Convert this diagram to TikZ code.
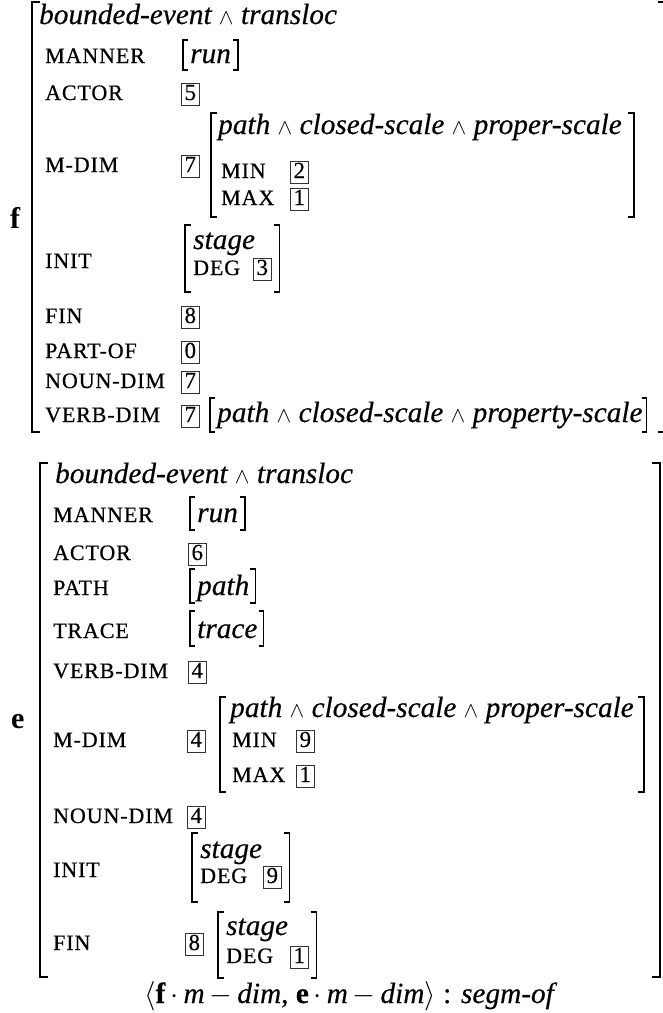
\documentclass[tikz,border=0pt]{standalone}
\usepackage{fix-cm}
\usepackage{fontspec}
\setmainfont{Liberation Serif}
\newfontfamily\scfam[LetterSpace=4,FakeBold=0.6]{Liberation Serif}
\newfontfamily\itfam[FakeBold=0.4]{Liberation Serif}
\newfontfamily\numfam[FakeBold=0.3]{Liberation Serif}
\usetikzlibrary{calc}
\newcommand\wg{{\fontsize{22}{22}\selectfont$\wedge$}}
% left bracket: x, top, bottom, tick, style
\newcommand\LB[5]{\draw[#5] (#1+#4,#2) -- (#1,#2) -- (#1,#3) -- (#1+#4,#3);}
% right bracket after node: node, gap, top, bottom, tick, style
\newcommand\RB[6]{\draw[#6] ([xshift=#2-#5]#1.east |- 0,#3) -- ([xshift=#2]#1.east |- 0,#3) -- ([xshift=#2]#1.east |- 0,#4) -- ([xshift=#2-#5]#1.east |- 0,#4);}
\tikzset{
  it/.style={anchor=base west, inner sep=0pt, font=\fontsize{29.3}{30}\selectfont\itfam\itshape},
  up/.style={anchor=base west, inner sep=0pt, font=\fontsize{29.3}{30}\selectfont\itfam},
  lab/.style={anchor=base west, inner sep=0pt, font=\fontsize{22}{22}\selectfont\scfam},
  nb/.style={draw=black!80, line width=0.6pt, anchor=base west, inner sep=0pt, minimum width=18pt, text height=17pt, text depth=5pt, font=\fontsize{23}{23}\selectfont\numfam},
  big/.style={anchor=base west, inner sep=0pt, font=\fontsize{30}{30}\selectfont\bfseries},
  ob/.style={line width=2.4pt},
  ib/.style={line width=1.6pt},
  sb/.style={line width=1.3pt},
}
\begin{document}
\begin{tikzpicture}[x=1pt,y=-1pt]
\useasboundingbox (0,0) rectangle (663,1013);
% ---------------- f ----------------
\node[big] (fB) at (10,228) {f};
\LB{32}{2}{432}{8}{ob}
\draw[ob] (658,2) -- (666,2) -- (666,432) -- (658,432);
\node[it] (f0) at (39,24) {bounded-event \wg{} transloc};
\node[lab] (fman) at (45,63) {MANNER};
\node[it] (frun) at (190,63) {run};
\LB{183}{40}{70}{5}{sb}
\RB{frun}{7}{40}{70}{5}{sb}
\node[lab] (fact) at (45,100) {ACTOR};
\node[nb] (fb5) at (181,100) {5};
\node[lab] (fmd) at (45,172) {M-DIM};
\node[nb] (fb7a) at (181,172) {7};
\node[it] (fpath) at (218,134) {path \wg{} closed-scale \wg{} proper-scale};
\node[lab] (fmin) at (221,178) {MIN};
\node[nb] (fb2) at (290,178) {2};
\node[lab] (fmax) at (221,205) {MAX};
\node[nb] (fb1) at (290,205) {1};
\LB{211}{113}{217}{6}{ib}
\RB{fpath}{12}{113}{217}{6}{ib}
\node[lab] (finit) at (45,268) {INIT};
\node[it] (fstage) at (193,249) {stage};
\node[lab] (fdeg) at (193,275) {DEG};
\node[nb] (fb3) at (253,275) {3};
\LB{185}{225}{292}{6}{ib}
\RB{fb3}{8}{225}{292}{6}{ib}
\node[lab] (ffin) at (45,323) {FIN};
\node[nb] (fb8) at (181,323) {8};
\node[lab] (fpart) at (45,358) {PART-OF};
\node[nb] (fb0) at (181,358) {0};
\node[lab] (fnoun) at (45,388) {NOUN-DIM};
\node[nb] (fb7b) at (181,388) {7};
\node[lab] (fverb) at (45,422) {VERB-DIM};
\node[nb] (fb7c) at (181,422) {7};
\node[it] (fvp) at (217,422) {path \wg{} closed-scale \wg{} property-scale};
\LB{210}{398}{432}{5}{sb}
\RB{fvp}{4}{398}{432}{5}{sb}
% ---------------- e ----------------
\node[big] (eB) at (11,728) {e};
\LB{40}{463}{977}{8}{ob}
\draw[ob] (652,463) -- (660,463) -- (660,977) -- (652,977);
\node[it] (e0) at (55,483) {bounded-event \wg{} transloc};
\node[lab] (eman) at (53,522) {MANNER};
\node[it] (erun) at (197,522) {run};
\LB{190}{497}{530}{5}{sb}
\RB{erun}{7}{497}{530}{5}{sb}
\node[lab] (eact) at (53,560) {ACTOR};
\node[nb] (eb6) at (188,560) {6};
\node[lab] (epth) at (53,595) {PATH};
\node[it] (epv) at (197,595) {path};
\LB{190}{569}{603}{5}{sb}
\RB{epv}{6}{569}{603}{5}{sb}
\node[lab] (etr) at (53,638) {TRACE};
\node[it] (etv) at (197,638) {trace};
\LB{190}{611}{646}{5}{sb}
\RB{etv}{6}{611}{646}{5}{sb}
\node[lab] (everb) at (53,678) {VERB-DIM};
\node[nb] (eb4a) at (188,678) {4};
\node[lab] (emd) at (53,747) {M-DIM};
\node[nb] (eb4b) at (187,747) {4};
\node[it] (epath) at (230,717) {path \wg{} closed-scale \wg{} proper-scale};
\node[lab] (emin) at (232,747) {MIN};
\node[nb] (eb9a) at (296,747) {9};
\node[lab] (emax) at (232,782) {MAX};
\node[nb] (eb1a) at (296,782) {1};
\LB{220}{697}{792}{6}{ib}
\RB{epath}{10}{697}{792}{6}{ib}
\node[lab] (enoun) at (53,823) {NOUN-DIM};
\node[nb] (eb4c) at (187,823) {4};
\node[lab] (einit) at (53,877) {INIT};
\node[it] (est1) at (200,858) {stage};
\node[lab] (edeg1) at (200,883) {DEG};
\node[nb] (eb9b) at (263,883) {9};
\LB{192}{833}{902}{6}{ib}
\RB{eb9b}{8}{833}{902}{6}{ib}
\node[lab] (efin) at (53,950) {FIN};
\node[nb] (eb8) at (185,950) {8};
\node[it] (est2) at (226,935) {stage};
\node[lab] (edeg2) at (226,963) {DEG};
\node[nb] (eb1b) at (290,963) {1};
\LB{218}{912}{978}{6}{ib}
\RB{eb1b}{8}{912}{978}{6}{ib}
% ---------------- relation ----------------
\node[up] (rel) at (144,1003) {$\langle$\textbf{f}\,$\cdot$\,\textit{m}\,$-$\,\textit{dim}, \textbf{e}\,$\cdot$\,\textit{m}\,$-$\,\textit{dim}$\rangle$ : \textit{segm-of}};
\end{tikzpicture}
\end{document}
